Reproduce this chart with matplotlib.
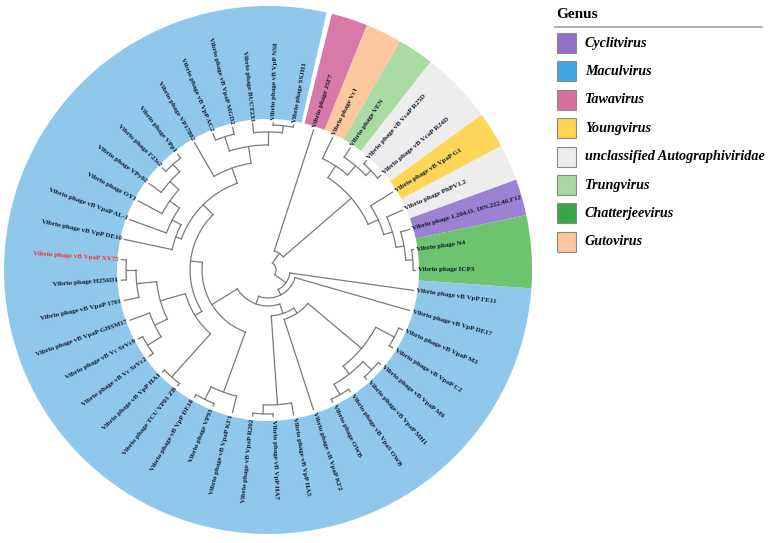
import numpy as np
import matplotlib
matplotlib.use("Agg")
import matplotlib.pyplot as plt
from matplotlib.patches import Rectangle

# tips, clockwise from the top (codes used in the tree string)
tip_codes = ["JSF7", "Vc1", "VEN", "R25D", "R24D", "G1", "PhPV12", "F12", "N4", "ICP3",
             "FE11", "DE17", "M3", "C2", "M9", "MH1", "VpaSOWB", "OWB", "KF2", "HA5",
             "HA7", "R202", "KF1", "VP93", "DE18", "TCU", "HA1", "SrVc2", "SrVc9", "GHSM17",
             "V1701", "H256D1", "XY75", "DE10", "AL1", "OY1", "VPy02", "F23s2", "VPp1", "VP17802",
             "AC2", "MGD2", "BUCT233", "NS8", "SSJH1"]
tip_labels = ["JSF7", "Vc1", "VEN", "vB VcaP R25D", "vB VcaP R24D", "vB VpaP G1", "PhPV1.2",
              "1.204.O. 10N.222.46.F12", "N4", "ICP3", "vB VpP FE11", "vB VpP DE17", "vB VpaP M3",
              "vB VpaP C2", "vB VpaP M9", "vB VpaP MH1", "vB VpaS OWB", "OWB", "vB VpaP KF2",
              "vB VpP HA5", "vB VpP HA7", "vB VpaP R202", "vB VpaP KF1", "VP93", "vB VpP DE18",
              "TCU VP01 ZB", "vB VpP HA1", "vB Vc SrVc2", "vB Vc SrVc9", "vB VpaP GHSM17",
              "vB VpaP 1701", "H256D1", "vB VpaP XY75", "vB VpP DE10", "vB VpaP AL-1", "OY1",
              "VPy02", "F23s2", "VPp1", "VP17802", "vB VpP AC2", "vB VpaP MGD2", "BUCT233",
              "vB VpP NS8", "SSJH1"]
tip_genus = ["Tawavirus", "Gutovirus", "Trungvirus", "unclassified Autographiviridae",
             "unclassified Autographiviridae", "Youngvirus", "unclassified Autographiviridae",
             "Cyclitvirus", "Chatterjeevirus", "Chatterjeevirus"] + ["Maculvirus"] * 35
highlight = "XY75"

# tree topology; number after ')' is the node's distance from the centre
UR = "((Vc1,(VEN,(R25D,R24D):143):136):124,(G1,(PhPV12,(F12,(N4,ICP3):145):138):130):121)"
G12 = "((M3,C2):143,((M9,MH1):144,(VpaSOWB,OWB):144):132)"
BOT = "((" + G12 + ":122,KF2):52,(HA5,(HA7,R202):144):135)"
KF1G = "(KF1,(VP93,DE18):144)"
LG = "((TCU,HA1):144,(((SrVc2,SrVc9):142,GHSM17):126,(V1701,(H256D1,XY75):142):132):112)"
UL = "(DE10,(AL1,(OY1,(VPy02,(F23s2,VPp1):142):132):120):108)"
TOP = "(VP17802,((AC2,MGD2):140,(BUCT233,(NS8,SSJH1):145):138):125)"
LEFT = "(" + LG + ":86,(" + UL + ":98," + TOP + ":108):92)"
W = "(" + KF1G + ":130," + LEFT + ":78)"
MAC = "(" + BOT + ":46," + W + ":66)"
tree_str = "((JSF7," + UR + ":110):20,(FE11,(DE17," + MAC + ":36):28):22):8"

genus_names = ["Cyclitvirus", "Maculvirus", "Tawavirus", "Youngvirus",
               "unclassified Autographiviridae", "Trungvirus", "Chatterjeevirus", "Gutovirus"]
legend_colors = ["#9370c8", "#3fa6df", "#d6709f", "#fdd54e", "#ececec", "#a6d8a0", "#3aa64a", "#fdc59b"]
band_colors = ["#9b82d2", "#90c8ec", "#d87aa9", "#fdd858", "#ededed", "#a9dba3", "#6dc36e", "#fdc89d"]

tip_r = 147
first_angle = 18.0
band_in, band_out = 151, 264


def parse(s):
    pos = 0

    def node():
        nonlocal pos
        if s[pos] == "(":
            pos += 1
            kids = [node()]
            while s[pos] == ",":
                pos += 1
                kids.append(node())
            pos += 1
            r = None
            if pos < len(s) and s[pos] == ":":
                pos += 1
                j = pos
                while pos < len(s) and (s[pos].isdigit() or s[pos] == "."):
                    pos += 1
                r = float(s[j:pos])
            return {"kids": kids, "r": r}
        j = pos
        while s[pos] not in ",()":
            pos += 1
        return {"name": s[j:pos], "r": tip_r}

    return node()


root = parse(tree_str)
step = 360.0 / len(tip_codes)


def layout(n):
    if "kids" not in n:
        n["a"] = first_angle + step * tip_codes.index(n["name"])
        return
    for k in n["kids"]:
        layout(k)
    n["a"] = (n["kids"][0]["a"] + n["kids"][-1]["a"]) / 2


layout(root)

fig = plt.figure(figsize=(7.74, 5.43), dpi=100)
ax = fig.add_axes([0.0039, 0.0148, 0.6848, 0.9761], projection="polar")
ax.set_theta_zero_location("N")
ax.set_theta_direction(-1)
ax.set_ylim(0, 265)
ax.set_xticks([])
ax.set_yticks([])
ax.grid(False)
ax.spines["polar"].set_visible(False)

# genus bands
runs = []
for i, g in enumerate(tip_genus):
    if runs and runs[-1][0] == g:
        runs[-1][2] = i
    else:
        runs.append([g, i, i])
for g, i0, i1 in runs:
    a0 = first_angle + step * i0 - step / 2
    a1 = first_angle + step * i1 + step / 2
    if g == "Maculvirus":
        a1 -= 1.2
    c = band_colors[genus_names.index(g)]
    ax.bar(np.radians((a0 + a1) / 2), band_out - band_in, width=np.radians(a1 - a0),
           bottom=band_in, color=c, edgecolor="none", zorder=1)

lc = "#7a7a7a"


def draw(n):
    if "kids" not in n:
        return
    ks = n["kids"]
    th = np.radians(np.linspace(ks[0]["a"], ks[-1]["a"], 80))
    ax.plot(th, np.full_like(th, n["r"]), color=lc, lw=0.9, zorder=2)
    for k in ks:
        ax.plot([np.radians(k["a"])] * 2, [n["r"], k["r"]], color=lc, lw=0.9, zorder=2)
        draw(k)


draw(root)

for i, code in enumerate(tip_codes):
    a = first_angle + step * i
    a_n = a % 360
    if a_n <= 180:
        rot, ha = 90 - a_n, "left"
    else:
        rot, ha = 270 - a_n, "right"
    col = "#ff2a2a" if code == highlight else "#0f1a2a"
    ax.text(np.radians(a), 150, "Vibrio phage " + tip_labels[i], rotation=rot,
            rotation_mode="anchor", ha=ha, va="center", fontsize=5,
            family="Liberation Serif", weight="bold", color=col, zorder=3)

# legend in pixel coordinates
lg = fig.add_axes([0, 0, 1, 1])
lg.set_xlim(0, 774)
lg.set_ylim(543, 0)
lg.axis("off")
lg.text(556, 14, "Genus", fontsize=11, weight="bold", family="Liberation Serif", va="center")
lg.plot([555, 762], [27, 27], color="#a8a8a8", lw=1.3)
for j, g in enumerate(genus_names):
    yc = 43 + j * 28.4
    lg.add_patch(Rectangle((557, yc - 10), 19, 20, facecolor=legend_colors[j],
                           edgecolor="#8a8a8a", lw=0.8))
    lg.text(585, yc, g, fontsize=10.2, weight="bold", style="italic",
            family="Liberation Serif", va="center")

fig.savefig("out.png", dpi=100)
